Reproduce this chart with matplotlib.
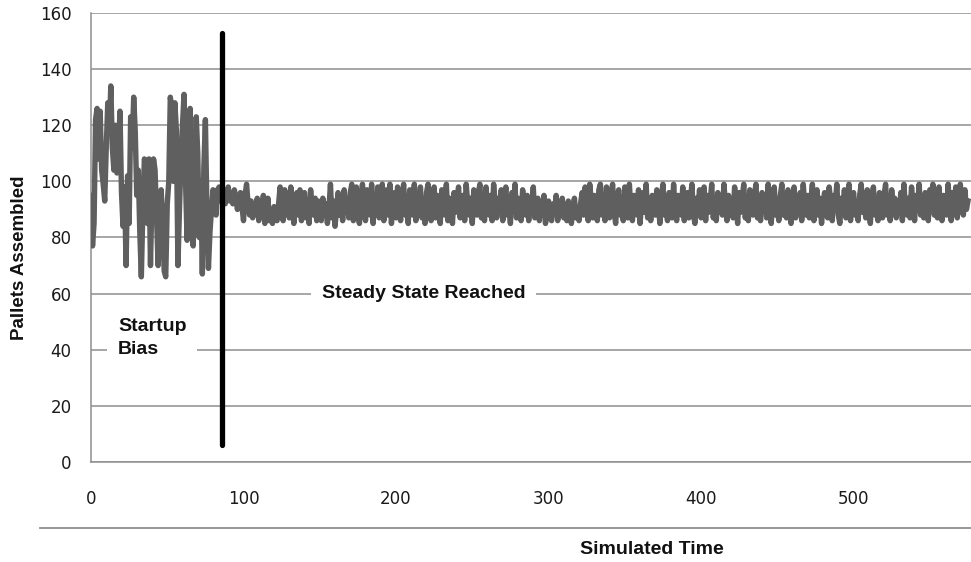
import matplotlib
matplotlib.use("Agg")
import matplotlib.pyplot as plt
from matplotlib.lines import Line2D
import numpy as np

# ---- data ----
startup_values = [
    95, 77, 85, 122, 126, 108, 125, 104, 99, 93,
    112, 128, 118, 134, 112, 104, 120, 103, 110, 125,
    96, 84, 98, 70, 102, 85, 123, 112, 130, 118,
    95, 104, 82, 66, 90, 108, 106, 85, 108, 70,
    96, 108, 104, 87, 70, 82, 97, 85, 68, 66,
    92, 100, 130, 126, 100, 128, 118, 70, 90, 108,
    120, 131, 100, 79, 118, 126, 95, 77, 100, 123,
    110, 80, 100, 67, 105, 122, 90, 69, 82, 90,
    97, 94, 88, 97, 98, 93,
]
steady_values = [
    97, 94, 92, 96, 98, 93, 95, 92, 97, 94, 90, 93, 96, 91,
    86, 95, 99, 92, 88, 93, 87, 91, 89, 94,
    86, 93, 88, 95, 85, 90, 94, 86, 89, 85,
    91, 87, 86, 92, 98, 89, 86, 97, 90, 95,
    87, 98, 91, 85, 94, 96, 88, 97, 86, 93,
    96, 87, 92, 85, 97, 90, 88, 94, 86, 93,
    91, 86, 94, 88, 92, 85, 90, 99, 87, 93,
    84, 90, 96, 88, 94, 86, 97, 89, 92, 87,
    96, 99, 86, 93, 98, 88, 85, 94, 99, 90,
    86, 97, 92, 88, 99, 85, 95, 90, 98, 87,
    93, 99, 86, 91, 97, 88, 99, 85, 94, 96,
    87, 98, 92, 86, 95, 99, 88, 91, 85, 97,
    93, 88, 99, 86, 94, 90, 98, 87, 92, 85,
    96, 99, 89, 86, 93, 98, 87, 95, 90, 85,
    97, 92, 88, 99, 86, 94, 91, 85, 96, 89,
    93, 98, 87, 90, 95, 86, 99, 92, 88, 94,
    85, 97, 91, 88, 96, 99, 87, 93, 86, 98,
    90, 88, 95, 86, 99, 92, 87, 94, 89, 97,
    86, 93, 98, 88, 91, 85, 96, 90, 99, 87,
    94, 89, 86, 97, 92, 88, 95, 86, 93, 91,
    98, 87, 90, 94, 86, 92, 88, 95, 85, 90,
    93, 87, 86, 92, 89, 95, 86, 91, 88, 94,
    87, 90, 86, 93, 88, 85, 91, 94, 87, 89,
    86, 92, 96, 88, 98, 91, 86, 99, 93, 87,
    95, 90, 86, 97, 99, 88, 93, 86, 98, 91,
    87, 95, 99, 89, 85, 94, 97, 88, 92, 86,
    98, 93, 87, 99, 90, 86, 95, 91, 88, 97,
    85, 92, 96, 89, 99, 87, 93, 86, 95, 90,
    88, 97, 92, 85, 94, 99, 88, 91, 86, 96,
    93, 87, 99, 90, 86, 95, 92, 88, 98, 86,
    91, 96, 87, 93, 99, 88, 85, 94, 90, 97,
    87, 92, 98, 86, 95, 89, 93, 99, 87, 91,
    86, 96, 90, 94, 88, 99, 92, 86, 95, 89,
    93, 87, 98, 91, 85, 96, 89, 94, 99, 87,
    92, 86, 97, 90, 88, 95, 99, 87, 93, 86,
    96, 90, 94, 87, 99, 89, 85, 93, 98, 88,
    91, 86, 95, 99, 88, 93, 87, 97, 90, 85,
    94, 98, 87, 92, 89, 96, 86, 99, 91, 88,
    95, 87, 93, 99, 86, 90, 97, 88, 94, 85,
    92, 96, 89, 87, 98, 93, 86, 95, 91, 99,
    88, 85, 94, 90, 97, 87, 92, 99, 86, 93,
    96, 88, 91, 86, 95, 99, 89, 93, 87, 97,
    90, 85, 94, 98, 88, 92, 86, 96, 91, 87,
    95, 99, 88, 93, 86, 97, 90, 94, 87, 92,
    89, 96, 86, 99, 91, 88, 94, 87, 98, 92,
    86, 95, 90, 99, 88, 93, 87, 96, 91, 86,
    97, 92, 99, 88, 94, 87, 98, 90, 86, 95,
    93, 88, 99, 91, 86, 96, 90, 98, 87, 94,
    99, 92, 88, 97, 90, 93,
]
pallets = startup_values + steady_values
sim_time = list(range(len(pallets)))

steady_time = 86
marker_top = 153
marker_bottom = 6

x_ticks = [0, 100, 200, 300, 400, 500]
y_ticks = [0, 20, 40, 60, 80, 100, 120, 140, 160]

# ---- figure ----
W, H = 971, 562
fig = plt.figure(figsize=(W / 100, H / 100), dpi=100)
ax = fig.add_axes([91 / W, 1 - 462 / H, (W - 91) / W, (462 - 13) / H])

grid_c = "#8e8e8e"
ax.set_xlim(0, 577)
ax.set_ylim(0, 160)
ax.set_yticks(y_ticks)
ax.set_xticks(x_ticks)
ax.yaxis.grid(True, color=grid_c, linewidth=1.1, zorder=0)
ax.set_axisbelow(True)
for s in ["top", "right"]:
    ax.spines[s].set_visible(False)
for s in ["left", "bottom"]:
    ax.spines[s].set_color(grid_c)
    ax.spines[s].set_linewidth(1.1)

ax.tick_params(axis="both", length=0)
ax.tick_params(axis="y", pad=14)
ax.tick_params(axis="x", pad=20)
for lab in ax.get_xticklabels() + ax.get_yticklabels():
    lab.set_fontfamily("DejaVu Sans")
    lab.set_fontsize(12)
    lab.set_color("#1a1a1a")

ax.plot(sim_time, pallets, color="#5f5f5f", linewidth=3.9, zorder=3,
        solid_joinstyle="round")
ax.plot([steady_time, steady_time], [marker_bottom, marker_top],
        color="black", linewidth=3.8, solid_capstyle="round", zorder=5)

bold = dict(family="Liberation Sans", weight="bold", size=14, color="#111111")
ax.text(218, 60, "Steady State Reached", ha="center", va="center", zorder=4,
        bbox=dict(boxstyle="square,pad=0.55", fc="white", ec="none"), **bold)
ax.text(17.8, 44.3, "Startup\nBias", ha="left", va="center", zorder=4,
        linespacing=1.45,
        bbox=dict(boxstyle="square,pad=0.55", fc="white", ec="none"), **bold)

fig.text(20 / W, 1 - 258 / H, "Pallets Assembled", rotation=90,
         ha="center", va="center", family="Liberation Sans", weight="bold",
         size=13.5, color="#111111")
fig.text(652 / W, 1 - 550 / H, "Simulated Time", ha="center", va="center",
         **bold)

fig.add_artist(Line2D([40 / W, 1.0], [1 - 528 / H, 1 - 528 / H],
                      color=grid_c, linewidth=1.3, transform=fig.transFigure))

fig.savefig("out.png", dpi=100)
